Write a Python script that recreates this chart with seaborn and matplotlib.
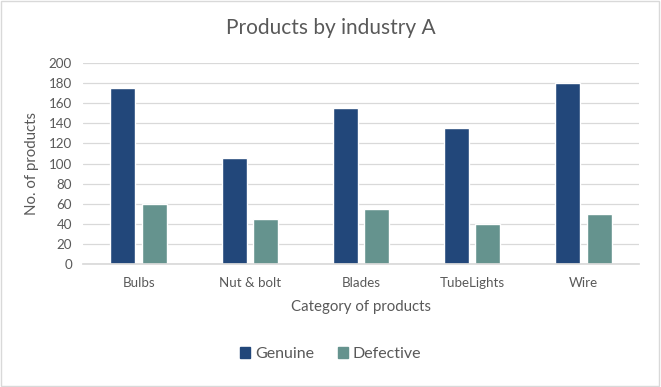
import matplotlib
matplotlib.use("Agg")
import matplotlib.pyplot as plt
import seaborn as sns
import pandas as pd
from matplotlib.patches import Rectangle

categories = ["Bulbs", "Nut & bolt", "Blades", "TubeLights", "Wire"]
genuine = [175, 105, 155, 135, 180]
defective = [60, 45, 55, 40, 50]
series_names = ["Genuine", "Defective"]
yticks = [0, 20, 40, 60, 80, 100, 120, 140, 160, 180, 200]

df = pd.DataFrame({
    "Category": categories * 2,
    "Series": [series_names[0]] * len(categories) + [series_names[1]] * len(categories),
    "Value": genuine + defective,
})

sns.set_theme(style="white")
plt.rcParams["font.family"] = ["Lato", "DejaVu Sans"]
grey = "#595959"

fig = plt.figure(figsize=(6.61, 3.87), dpi=100)
ax = fig.add_axes([0.1256, 0.317, 0.9667 - 0.1256, 0.838 - 0.317])

sns.barplot(data=df, x="Category", y="Value", hue="Series",
            palette=["#22477A", "#65938E"], width=0.563, gap=0.2,
            ax=ax, legend=False, saturation=1)

ax.set_ylim(0, 200)
ax.set_xlim(-0.5, 4.5)
ax.set_yticks(yticks)
ax.yaxis.grid(True, color="#d9d9d9", linewidth=0.9)
ax.set_axisbelow(True)
for s in ["top", "right", "left"]:
    ax.spines[s].set_visible(False)
ax.spines["bottom"].set_color("#d9d9d9")
ax.tick_params(axis="both", length=0, colors=grey, labelsize=9.6)
ax.tick_params(axis="x", pad=9)
ax.tick_params(axis="y", pad=8)
ax.set_xlabel("Category of products", fontsize=10.8, color=grey, labelpad=8)
ax.set_ylabel("No. of products", fontsize=10.8, color=grey, labelpad=7)

fig.text(0.5, 1 - 28 / 387, "Products by industry A", ha="center", va="center",
         fontsize=15, color=grey)

handles = [Rectangle((0, 0), 1, 1, color=c) for c in ["#22477A", "#65938E"]]
fig.legend(handles, series_names, loc="center", bbox_to_anchor=(0.5, 1 - 354 / 387),
           ncol=2, frameon=False, fontsize=11.5, labelcolor=grey,
           handlelength=0.65, handleheight=0.65, handletextpad=0.3, columnspacing=1.5)

fig.patches.append(Rectangle((0.002, 0.003), 0.995, 0.994, transform=fig.transFigure,
                             fill=False, edgecolor="#d9d9d9", linewidth=1))

fig.savefig("out.png", dpi=100)
